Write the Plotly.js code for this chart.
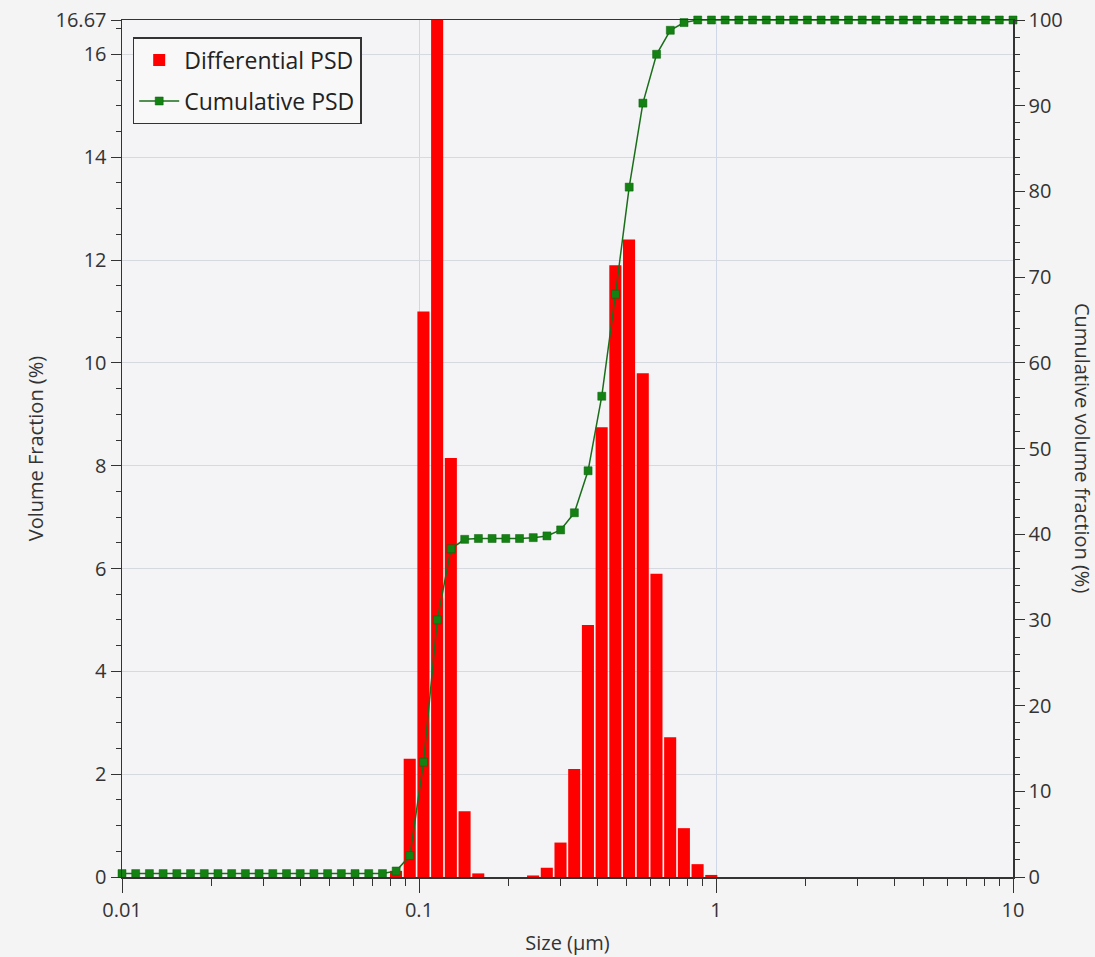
<!DOCTYPE html>
<html>
<head>
<meta charset="utf-8">
<script src="https://cdn.plot.ly/plotly-3.0.1.min.js"></script>
<style>html,body{margin:0;padding:0;background:#f4f4f4;}#chart{width:1095px;height:957px;}</style>
</head>
<body>
<div id="chart"></div>
<script>
// Bin sizes (µm), log-spaced grid
const sizes = [0.01, 0.011121, 0.012368, 0.013755, 0.015298, 0.017013, 0.018921, 0.021043, 0.023403, 0.026027,
  0.028946, 0.032193, 0.035803, 0.039811, 0.044275, 0.04924, 0.054762, 0.060903, 0.067733, 0.075328,
  0.083776, 0.09317, 0.10361, 0.11523, 0.12815, 0.14252, 0.15849, 0.17627, 0.19603, 0.21801,
  0.24245, 0.26964, 0.29988, 0.3335, 0.3709, 0.41249, 0.45874, 0.51018, 0.56739, 0.63096,
  0.70171, 0.7804, 0.86791, 0.96523, 1.0735, 1.1938, 1.3277, 1.4766, 1.6422, 1.8263,
  2.0311, 2.2589, 2.5119, 2.7936, 3.1068, 3.4552, 3.8427, 4.2736, 4.7528, 5.2858,
  5.8785, 6.5377, 7.2708, 8.0861, 8.9929, 10];

// Differential PSD (volume %)
const differential = [0, 0, 0, 0, 0, 0, 0, 0, 0, 0,
  0, 0, 0, 0, 0, 0, 0, 0, 0, 0,
  0.12, 2.3, 11.0, 16.67, 8.15, 1.28, 0.07, 0, 0, 0,
  0.03, 0.18, 0.67, 2.1, 4.9, 8.75, 11.9, 12.4, 9.8, 5.9,
  2.72, 0.95, 0.25, 0.04, 0, 0, 0, 0, 0, 0,
  0, 0, 0, 0, 0, 0, 0, 0, 0, 0,
  0, 0, 0, 0, 0, 0];

// Cumulative PSD (%)
const cumulative = [0.4, 0.4, 0.4, 0.4, 0.4, 0.4, 0.4, 0.4, 0.4, 0.4,
  0.4, 0.4, 0.4, 0.4, 0.4, 0.4, 0.4, 0.4, 0.4, 0.4,
  0.7, 2.5, 13.4, 30.0, 38.3, 39.4, 39.5, 39.5, 39.5, 39.5,
  39.6, 39.8, 40.5, 42.5, 47.4, 56.1, 68.0, 80.5, 90.3, 96.0,
  98.8, 99.7, 100, 100, 100, 100, 100, 100, 100, 100,
  100, 100, 100, 100, 100, 100, 100, 100, 100, 100,
  100, 100, 100, 100, 100, 100];

const leftTickVals = [0, 2, 4, 6, 8, 10, 12, 14, 16, 16.67];
const leftTickText = ['0', '2', '4', '6', '8', '10', '12', '14', '16', '16.67'];

const FONT = 'Open Sans, Noto Sans, sans-serif';

// bar widths: ~88% of one log bin, expressed in linear units around each centre
const barWidths = sizes.map(s => s * 0.0936);

const traces = [
  {
    type: 'bar', name: 'Differential PSD', legendgroup: 'd',
    x: sizes, y: differential, width: barWidths,
    marker: {color: '#ff0000', line: {width: 0}},
    xaxis: 'x', yaxis: 'y'
  },
  {
    type: 'scatter', mode: 'lines+markers', name: 'Cumulative PSD', legendgroup: 'c',
    x: sizes, y: cumulative,
    line: {color: '#1a6e1a', width: 1.5},
    marker: {symbol: 'square', size: 8, color: '#138213', line: {color: '#0b5e0b', width: 0.5}},
    cliponaxis: false,
    xaxis: 'x', yaxis: 'y2'
  }
];

const layout = {
  width: 1095, height: 957,
  paper_bgcolor: '#f4f4f4', plot_bgcolor: '#f4f4f6',
  margin: {l: 122, r: 82, t: 20, b: 80},
  font: {family: FONT, size: 19, color: '#333'},
  showlegend: true,
  legend: {
    x: 0.012, y: 0.98, xanchor: 'left', yanchor: 'top',
    bgcolor: '#f8f8f8', bordercolor: '#333', borderwidth: 1.5,
    font: {family: FONT, size: 23, color: '#222'},
    itemwidth: 40,
    tracegroupgap: 8
  },
  xaxis: {
    type: 'log', range: [-2, 1], dtick: 1,
    showline: true, linecolor: '#333', linewidth: 1.5, mirror: true,
    ticks: 'outside', ticklen: 14, tickcolor: '#333',
    showgrid: true, gridcolor: '#cfd8e6', gridwidth: 1,
    zeroline: false,
    minor: {ticks: 'outside', ticklen: 7, tickcolor: '#333', showgrid: false},
    tickfont: {size: 20},
    title: {text: 'Size (µm)', font: {size: 20}, standoff: 14}
  },
  yaxis: {
    range: [0, 16.67], tickmode: 'array', tickvals: leftTickVals, ticktext: leftTickText,
    showline: true, linecolor: '#333', linewidth: 1.5,
    ticks: 'outside', ticklen: 10, tickcolor: '#333',
    showgrid: true, gridcolor: '#d6d9df', gridwidth: 1,
    zeroline: false,
    minor: {tickmode: 'linear', tick0: 0, dtick: 0.5, ticks: 'outside', ticklen: 5, tickcolor: '#333', showgrid: false},
    tickfont: {size: 20},
    title: {text: 'Volume Fraction (%)', font: {size: 20}, standoff: 6}
  },
  yaxis2: {
    overlaying: 'y', side: 'right', range: [0, 100], dtick: 10,
    showline: true, linecolor: '#333', linewidth: 1.5,
    ticks: 'outside', ticklen: 10, tickcolor: '#333',
    showgrid: false, zeroline: false,
    minor: {tickmode: 'linear', tick0: 0, dtick: 2, ticks: 'outside', ticklen: 5, tickcolor: '#333', showgrid: false},
    tickfont: {size: 20}
  },
  annotations: [{
    text: 'Cumulative volume fraction (%)', textangle: 90,
    xref: 'paper', yref: 'paper', x: 1.078, y: 0.5, xanchor: 'center', yanchor: 'middle',
    showarrow: false, font: {family: FONT, size: 20, color: '#333'}
  }]
};

Plotly.newPlot('chart', traces, layout, {displayModeBar: false, staticPlot: true});
</script>
</body>
</html>
